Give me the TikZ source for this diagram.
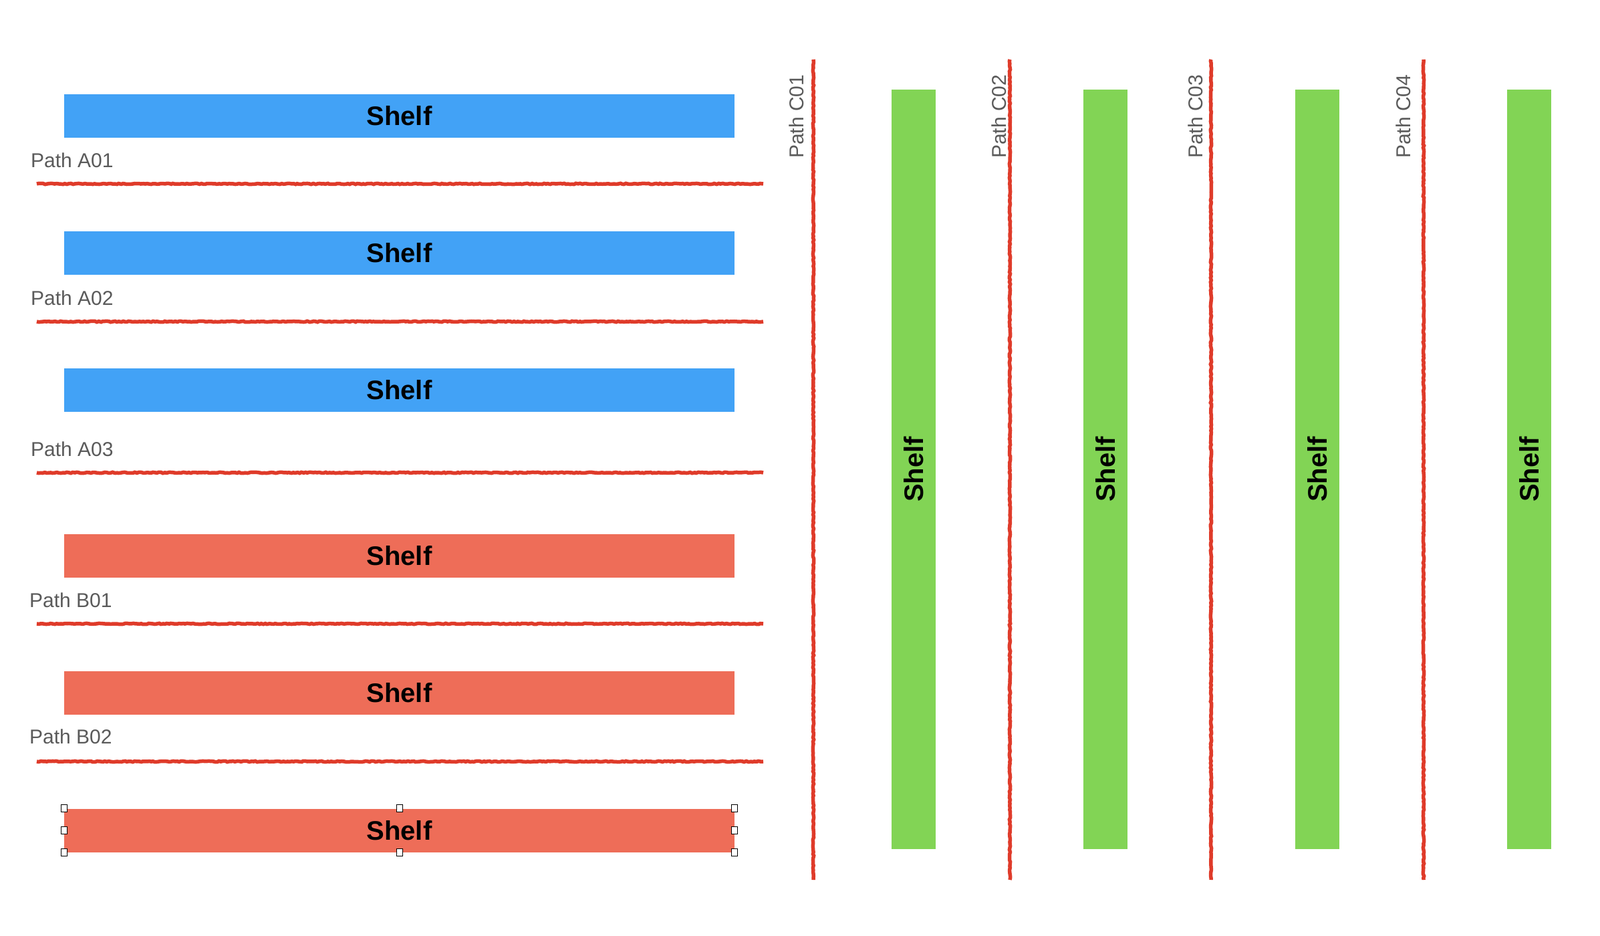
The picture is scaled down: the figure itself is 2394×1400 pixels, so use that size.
\documentclass[tikz,border=0pt]{standalone}
\usepackage{fontspec}
\setmainfont{Liberation Sans}
\usetikzlibrary{decorations.pathmorphing}
\definecolor{shelfblue}{HTML}{42A2F6}
\definecolor{shelfred}{HTML}{EE6D58}
\definecolor{shelfgreen}{HTML}{82D455}
\definecolor{pathred}{HTML}{DF3B2A}
\definecolor{labelgray}{HTML}{5A5A5A}
\tikzset{
  shelf/.style={fill=#1, inner sep=0pt, text=black,
    font=\fontsize{40}{48}\selectfont\bfseries},
  hshelf/.style={shelf=#1, minimum width=1003pt, minimum height=65pt},
  vshelf/.style={shelf=#1, rotate=90, minimum width=1136pt, minimum height=66pt},
  aisle/.style={draw=pathred, line width=5.5pt, decorate,
    decoration={random steps, segment length=3pt, amplitude=0.7pt}},
  aislelabel/.style={text=labelgray, inner sep=0pt,
    font=\fontsize{30}{36}\selectfont},
  grip/.style={draw=black, fill=white, line width=1pt, inner sep=0pt,
    minimum width=9pt, minimum height=11pt}
}

\begin{document}
\begin{tikzpicture}[x=1pt, y=-1pt]
  \useasboundingbox (0,0) rectangle (2394,1400);
  % horizontal shelves
  \node[hshelf=shelfblue] (sa1) at (597.5,173) {Shelf};
  \node[hshelf=shelfblue] (sa2) at (597.5,378.5) {Shelf};
  \node[hshelf=shelfblue] (sa3) at (597.5,583) {Shelf};
  \node[hshelf=shelfred] (sb1) at (597.5,831) {Shelf};
  \node[hshelf=shelfred] (sb2) at (597.5,1036.5) {Shelf};
  \node[hshelf=shelfred] (sb3) at (597.5,1242) {Shelf};
  % horizontal paths
  \coordinate (pa1w) at (55,275);  \coordinate (pa1e) at (1142,275);
  \coordinate (pa2w) at (55,481);  \coordinate (pa2e) at (1142,481);
  \coordinate (pa3w) at (55,707);  \coordinate (pa3e) at (1142,707);
  \coordinate (pb1w) at (55,933);  \coordinate (pb1e) at (1142,933);
  \coordinate (pb2w) at (55,1139); \coordinate (pb2e) at (1142,1139);
  \draw[aisle] (pa1w) -- (pa1e);
  \draw[aisle] (pa2w) -- (pa2e);
  \draw[aisle] (pa3w) -- (pa3e);
  \draw[aisle] (pb1w) -- (pb1e);
  \draw[aisle] (pb2w) -- (pb2e);
  \node[aislelabel, anchor=west] (la1) at (46,240) {Path A01};
  \node[aislelabel, anchor=west] (la2) at (46,446) {Path A02};
  \node[aislelabel, anchor=west] (la3) at (46,672) {Path A03};
  \node[aislelabel, anchor=west] (lb1) at (44,898) {Path B01};
  \node[aislelabel, anchor=west] (lb2) at (44,1102) {Path B02};
  % vertical shelves
  \node[vshelf=shelfgreen] (sc1) at (1367,702) {Shelf};
  \node[vshelf=shelfgreen] (sc2) at (1654,702) {Shelf};
  \node[vshelf=shelfgreen] (sc3) at (1971,702) {Shelf};
  \node[vshelf=shelfgreen] (sc4) at (2288,702) {Shelf};
  % vertical paths
  \coordinate (pc1n) at (1217,89);  \coordinate (pc1s) at (1217,1316);
  \coordinate (pc2n) at (1511,89);  \coordinate (pc2s) at (1511,1316);
  \coordinate (pc3n) at (1812,89);  \coordinate (pc3s) at (1812,1316);
  \coordinate (pc4n) at (2130,89);  \coordinate (pc4s) at (2130,1316);
  \draw[aisle] (pc1n) -- (pc1s);
  \draw[aisle] (pc2n) -- (pc2s);
  \draw[aisle] (pc3n) -- (pc3s);
  \draw[aisle] (pc4n) -- (pc4s);
  \node[aislelabel, rotate=90, anchor=base west] (lc1) at (1202,237) {Path C01};
  \node[aislelabel, rotate=90, anchor=base west] (lc2) at (1505,237) {Path C02};
  \node[aislelabel, rotate=90, anchor=base west] (lc3) at (1799,237) {Path C03};
  \node[aislelabel, rotate=90, anchor=base west] (lc4) at (2110,237) {Path C04};
  % selection handles
  \node[grip] (g1) at (sb3.north west) {};
  \node[grip] (g2) at (sb3.north) {};
  \node[grip] (g3) at (sb3.north east) {};
  \node[grip] (g4) at (sb3.west) {};
  \node[grip] (g5) at (sb3.east) {};
  \node[grip] (g6) at (sb3.south west) {};
  \node[grip] (g7) at (sb3.south) {};
  \node[grip] (g8) at (sb3.south east) {};
\end{tikzpicture}
\end{document}
